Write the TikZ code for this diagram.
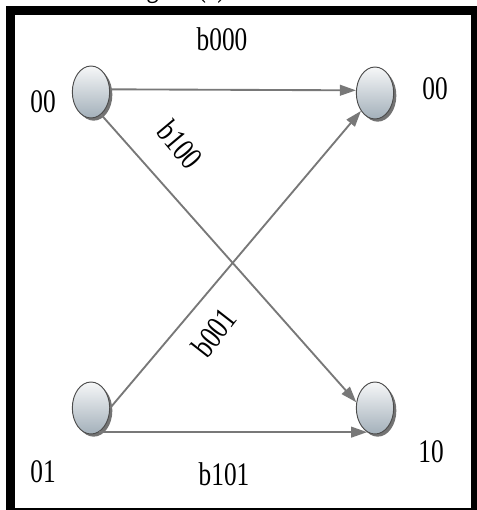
\documentclass[tikz,border=0pt]{standalone}
\usepackage{fontspec}
\setmainfont{Liberation Serif}
\usepackage{tikz}
\usepackage{xcolor}
\usetikzlibrary{shapes.geometric,shadows,arrows.meta}
\definecolor{ballTop}{RGB}{246,247,248}
\definecolor{ballBot}{RGB}{163,176,186}
\definecolor{edgeGray}{RGB}{120,120,120}
\newcommand{\stretchtxt}[1]{\scalebox{1}[1.3]{#1}}

\begin{document}
\begin{tikzpicture}[x=0.75pt,y=-0.75pt,
  every node/.style={font=\fontsize{19}{22}\selectfont},
  state/.style={ellipse,draw=black!70,line width=0.7pt,minimum width=28pt,minimum height=39pt,
    top color=ballTop,bottom color=ballBot,
    drop shadow={shadow xshift=2pt,shadow yshift=-2pt,fill=black,opacity=0.55}},
  trans/.style={draw=edgeGray,line width=1.4pt,-{Triangle[length=12pt,width=8pt]}},
  lbl/.style={inner sep=0pt}]
\useasboundingbox (0,0) rectangle (476,510);
\node[lbl,anchor=base west] (title) at (125,-3) {\stretchtxt{Figure (c)}};
\draw[line width=6.75pt] (10.5,10.5) rectangle (475.5,512.5);
\node[state] (s00a) at (91,92) {};
\node[state] (s00b) at (375,93) {};
\node[state] (s01) at (91,408) {};
\node[state] (s10) at (375,408) {};
\draw[trans] (s00a.8) -- (s00b.172);
\draw[trans] (s00a.-66) -- (s10.163);
\draw[trans] (s01.0) -- (s00b.-128);
\draw[trans] (s01.-72) -- (s10.-108);
\node[lbl] (l00a) at (43,102) {\stretchtxt{00}};
\node[lbl] (l00b) at (435,89) {\stretchtxt{00}};
\node[lbl] (l01) at (43,472) {\stretchtxt{01}};
\node[lbl] (l10) at (431,452) {\stretchtxt{10}};
\node[lbl] (e000) at (222,39) {\stretchtxt{b000}};
\node[lbl,rotate=-50] (e100) at (180,145) {\stretchtxt{b100}};
\node[lbl,rotate=52] (e001) at (214,333) {\stretchtxt{b001}};
\node[lbl] (e101) at (224,474) {\stretchtxt{b101}};
\end{tikzpicture}
\end{document}
